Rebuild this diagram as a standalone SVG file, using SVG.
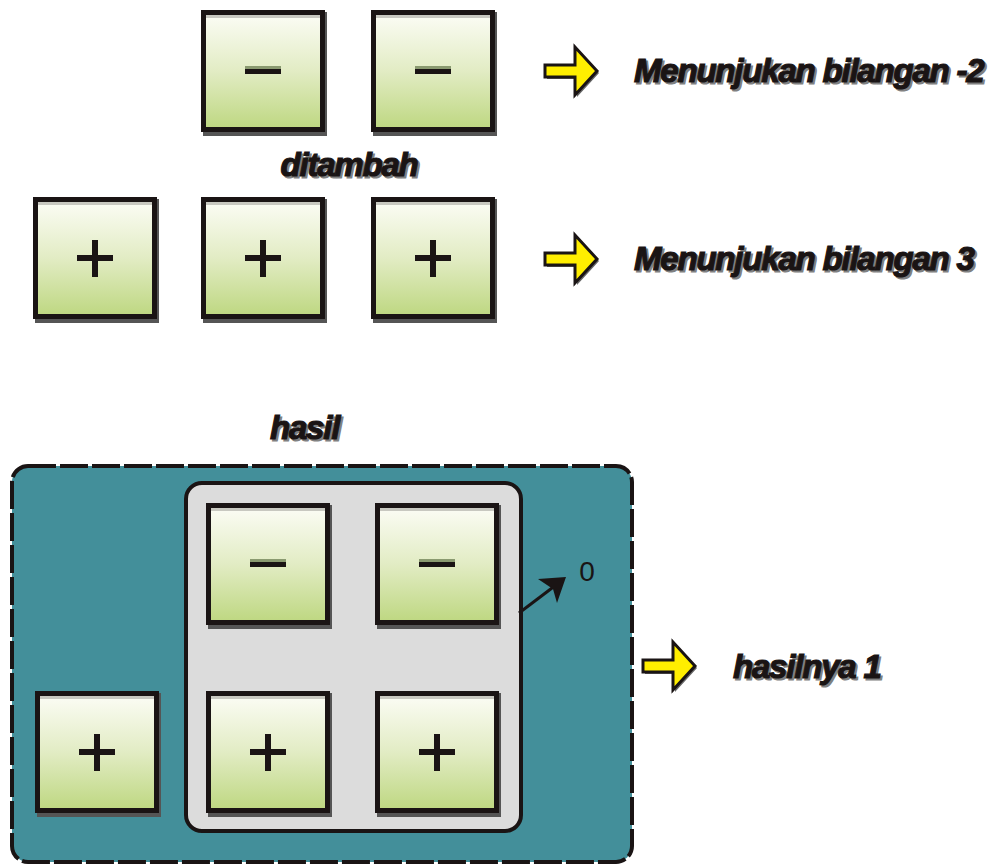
<svg xmlns="http://www.w3.org/2000/svg" width="1003" height="866" viewBox="0 0 1003 866">
  <defs>
    <linearGradient id="tileFill" x1="0" y1="0" x2="0" y2="1">
      <stop offset="0" stop-color="#fbfcf4"/>
      <stop offset="0.5" stop-color="#e2ecc4"/>
      <stop offset="1" stop-color="#bfd883"/>
    </linearGradient>
    <g id="tile">
      <rect x="2" y="2" width="124" height="124" fill="#555"/>
      <rect x="0" y="0" width="124" height="122" fill="#1a1414"/>
      <rect x="5" y="5" width="114" height="112" fill="url(#tileFill)"/>
      <rect x="5" y="5" width="114" height="3" fill="#c8c8c0"/>
    </g>
    <g id="minus">
      <rect x="44" y="56" width="36" height="4" fill="#8a9a70"/>
      <rect x="44" y="59" width="36" height="5" fill="#1a1414"/>
    </g>
    <g id="plus">
      <rect x="44" y="58" width="36" height="6" fill="#1a1414"/>
      <rect x="59" y="43" width="6" height="37" fill="#1a1414"/>
    </g>
    <g id="yarrow">
      <polygon points="2,10 32,10 32,-8 54,16 32,40 32,22 2,22" fill="#666"/>
      <polygon points="0,8 30,8 30,-10 52,14 30,38 30,20 0,20" fill="#ffee00" stroke="#1a1414" stroke-width="3" stroke-linejoin="miter"/>
    </g>
  </defs>
  <style>
    .lbl { font-family: "Liberation Sans", Arial, sans-serif; font-weight: bold; font-style: italic; fill: #1a1414; stroke: #1a1414; stroke-width: 1.2; font-size: 33px; letter-spacing: -1.2px; }
    .shadow { fill: #808080; stroke: #808080; }
    .num { font-family: "Liberation Sans", Arial, sans-serif; fill: #1a1414; }
  </style>

  <rect width="1003" height="866" fill="#ffffff"/>

  <!-- first operand: two negative tiles -->
  <g id="neg-tile-1"><use href="#tile" x="201" y="10"/><use href="#minus" x="201" y="10"/></g>
  <g id="neg-tile-2"><use href="#tile" x="371" y="10"/><use href="#minus" x="371" y="10"/></g>

  <g id="label-ditambah">
    <text class="lbl shadow" x="351" y="178" text-anchor="middle">ditambah</text>
    <text class="lbl" x="349" y="176" text-anchor="middle">ditambah</text>
  </g>

  <!-- second operand: three positive tiles -->
  <g id="pos-tile-1"><use href="#tile" x="33" y="197"/><use href="#plus" x="33" y="197"/></g>
  <g id="pos-tile-2"><use href="#tile" x="201" y="197"/><use href="#plus" x="201" y="197"/></g>
  <g id="pos-tile-3"><use href="#tile" x="371" y="197"/><use href="#plus" x="371" y="197"/></g>

  <!-- explanations -->
  <g id="note-minus2">
    <use href="#yarrow" x="545" y="57"/>
    <text class="lbl shadow" x="636" y="84">Menunjukan bilangan -2</text>
    <text class="lbl" x="634" y="82">Menunjukan bilangan -2</text>
  </g>
  <g id="note-3">
    <use href="#yarrow" x="545" y="245"/>
    <text class="lbl shadow" x="636" y="272">Menunjukan bilangan 3</text>
    <text class="lbl" x="634" y="270">Menunjukan bilangan 3</text>
  </g>

  <g id="label-hasil">
    <text class="lbl shadow" x="272" y="441">hasil</text>
    <text class="lbl" x="270" y="439">hasil</text>
  </g>

  <!-- result area -->
  <g id="result-panel">
    <rect x="12" y="466" width="620" height="396" rx="16" fill="#438f9a" stroke="#1a1414" stroke-width="4" stroke-dasharray="28 4"/>
  </g>
  <g id="zero-pair-panel">
    <rect x="186" y="483" width="335" height="348" rx="16" fill="#dcdcdc" stroke="#1a1414" stroke-width="4"/>
  </g>

  <g id="res-neg-1"><use href="#tile" x="206" y="503"/><use href="#minus" x="206" y="503"/></g>
  <g id="res-neg-2"><use href="#tile" x="375" y="503"/><use href="#minus" x="375" y="503"/></g>
  <g id="res-pos-1"><use href="#tile" x="35" y="691"/><use href="#plus" x="35" y="691"/></g>
  <g id="res-pos-2"><use href="#tile" x="206" y="691"/><use href="#plus" x="206" y="691"/></g>
  <g id="res-pos-3"><use href="#tile" x="375" y="691"/><use href="#plus" x="375" y="691"/></g>

  <g id="connectors">
    <line x1="519" y1="613" x2="556" y2="585" stroke="#1a1414" stroke-width="3"/>
    <polygon points="538,579 566,577 557,603 553,589" fill="#1a1414"/>
  </g>
  <g id="label-zero">
    <text class="num" x="587" y="581" font-size="28" text-anchor="middle">0</text>
  </g>

  <g id="note-1">
    <use href="#yarrow" x="643" y="652"/>
    <text class="lbl shadow" x="735" y="680">hasilnya 1</text>
    <text class="lbl" x="733" y="678">hasilnya 1</text>
  </g>
</svg>
